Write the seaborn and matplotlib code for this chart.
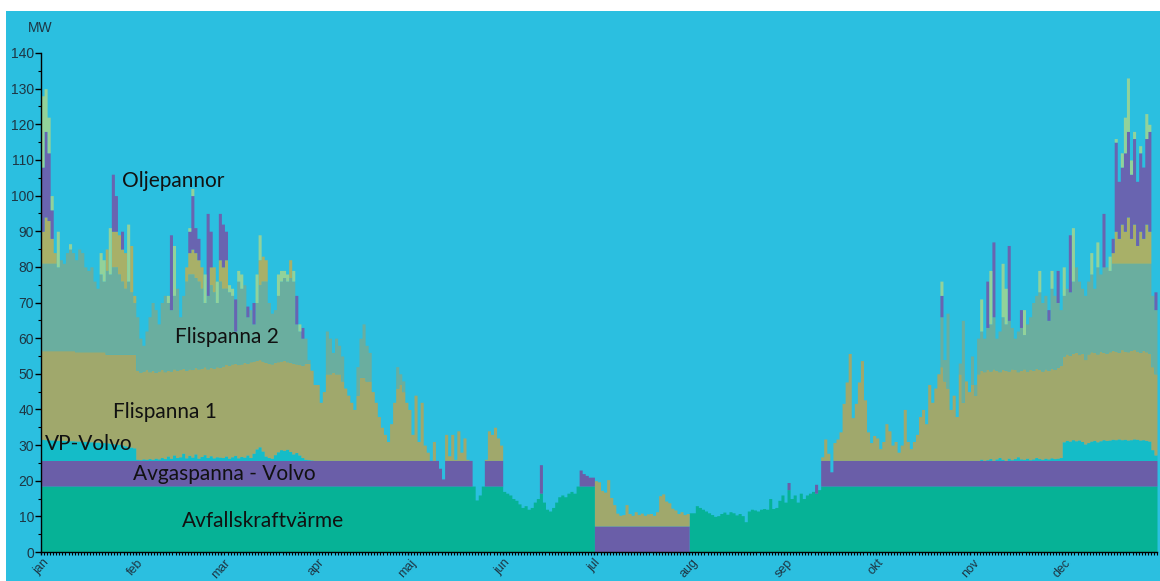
"""Heat production per source over one year (MW), stacked, drawn with seaborn."""

import numpy as np
import pandas as pd
import matplotlib

matplotlib.use("Agg")
import matplotlib.pyplot as plt
from matplotlib.patches import Rectangle
import seaborn as sns

months = ["jan", "feb", "mar", "apr", "maj", "jun", "jul", "aug", "sep", "okt", "nov", "dec"]
days_in_month = [31, 28, 31, 30, 31, 30, 31, 31, 30, 31, 30, 31]

# Daily values in MW, one inner list per month
avfallskraft = [
    [18.5, 18.5, 18.5, 18.5, 18.5, 18.5, 18.5, 18.5, 18.5, 18.5,
     18.5, 18.5, 18.5, 18.5, 18.5, 18.5, 18.5, 18.5, 18.5, 18.5,
     18.5, 18.5, 18.5, 18.5, 18.5, 18.5, 18.5, 18.5, 18.5, 18.5, 18.5],
    [18.5, 18.5, 18.5, 18.5, 18.5, 18.5, 18.5, 18.5, 18.5, 18.5,
     18.5, 18.5, 18.5, 18.5, 18.5, 18.5, 18.5, 18.5, 18.5, 18.5,
     18.5, 18.5, 18.5, 18.5, 18.5, 18.5, 18.5, 18.5],
    [18.5, 18.5, 18.5, 18.5, 18.5, 18.5, 18.5, 18.5, 18.5, 18.5,
     18.5, 18.5, 18.5, 18.5, 18.5, 18.5, 18.5, 18.5, 18.5, 18.5,
     18.5, 18.5, 18.5, 18.5, 18.5, 18.5, 18.5, 18.5, 18.5, 18.5, 18.5],
    [18.5, 18.5, 18.5, 18.5, 18.5, 18.5, 18.5, 18.5, 18.5, 18.5,
     18.5, 18.5, 18.5, 18.5, 18.5, 18.5, 18.5, 18.5, 18.5, 18.5,
     18.5, 18.5, 18.5, 18.5, 18.5, 18.5, 18.5, 18.5, 18.5, 18.5],
    [18.5, 18.5, 18.5, 18.5, 18.5, 18.5, 18.5, 18.5, 18.5, 18.5,
     18.5, 18.5, 18.5, 18.5, 18.5, 18.5, 18.5, 18.5, 18.5, 18.5,
     18.5, 18.5, 14.6, 16.0, 18.5, 18.5, 18.5, 18.5, 18.5, 18.5, 18.5],
    [17.0, 16.5, 16.0, 15.0, 14.5, 13.5, 12.5, 13.0, 12.0, 12.5,
     14.0, 15.0, 16.5, 14.0, 12.0, 11.5, 12.5, 14.0, 15.5, 16.0,
     15.5, 16.5, 17.0, 16.5, 18.5, 18.5, 18.5, 18.5, 18.5, 18.5],
    [0, 0, 0, 0, 0, 0, 0, 0, 0, 0,
     0, 0, 0, 0, 0, 0, 0, 0, 0, 0,
     0, 0, 0, 0, 0, 0, 0, 0, 0, 0, 0],
    [11.0, 11.0, 13.0, 12.5, 12.0, 11.5, 11.0, 10.5, 10.0, 10.2,
     10.8, 11.2, 10.6, 11.3, 11.0, 10.4, 10.8, 10.2, 8.5, 11.5,
     12.0, 11.8, 11.5, 12.0, 12.2, 12.0, 15.0, 12.2, 12.5, 14.5, 16.0],
    [14.0, 17.5, 15.0, 16.0, 14.0, 16.5, 15.0, 16.0, 16.5, 17.0,
     16.5, 17.5, 18.5, 18.5, 18.5, 18.5, 18.5, 18.5, 18.5, 18.5,
     18.5, 18.5, 18.5, 18.5, 18.5, 18.5, 18.5, 18.5, 18.5, 18.5],
    [18.5, 18.5, 18.5, 18.5, 18.5, 18.5, 18.5, 18.5, 18.5, 18.5,
     18.5, 18.5, 18.5, 18.5, 18.5, 18.5, 18.5, 18.5, 18.5, 18.5,
     18.5, 18.5, 18.5, 18.5, 18.5, 18.5, 18.5, 18.5, 18.5, 18.5, 18.5],
    [18.5, 18.5, 18.5, 18.5, 18.5, 18.5, 18.5, 18.5, 18.5, 18.5,
     18.5, 18.5, 18.5, 18.5, 18.5, 18.5, 18.5, 18.5, 18.5, 18.5,
     18.5, 18.5, 18.5, 18.5, 18.5, 18.5, 18.5, 18.5, 18.5, 18.5],
    [18.5, 18.5, 18.5, 18.5, 18.5, 18.5, 18.5, 18.5, 18.5, 18.5,
     18.5, 18.5, 18.5, 18.5, 18.5, 18.5, 18.5, 18.5, 18.5, 18.5,
     18.5, 18.5, 18.5, 18.5, 18.5, 18.5, 18.5, 18.5, 18.5, 18.5, 18.5],
]

avgaspanna = [
    [7.2, 7.2, 7.2, 7.2, 7.2, 7.2, 7.2, 7.2, 7.2, 7.2,
     7.2, 7.2, 7.2, 7.2, 7.2, 7.2, 7.2, 7.2, 7.2, 7.2,
     7.2, 7.2, 7.2, 7.2, 7.2, 7.2, 7.2, 7.2, 7.2, 7.2, 7.2],
    [7.2, 7.2, 7.2, 7.2, 7.2, 7.2, 7.2, 7.2, 7.2, 7.2,
     7.2, 7.2, 7.2, 7.2, 7.2, 7.2, 7.2, 7.2, 7.2, 7.2,
     7.2, 7.2, 7.2, 7.2, 7.2, 7.2, 7.2, 7.2],
    [7.2, 7.2, 7.2, 7.2, 7.2, 7.2, 7.2, 7.2, 7.2, 7.2,
     7.2, 7.2, 7.2, 7.2, 7.2, 7.2, 7.2, 7.2, 7.2, 7.2,
     7.2, 7.2, 7.2, 7.2, 7.2, 7.2, 7.2, 7.2, 7.2, 7.2, 7.2],
    [7.2, 7.2, 7.2, 7.2, 7.2, 7.2, 7.2, 7.2, 7.2, 7.2,
     7.2, 7.2, 7.2, 7.2, 7.2, 7.2, 7.2, 7.2, 7.2, 7.2,
     7.2, 7.2, 7.2, 7.2, 7.2, 7.2, 7.2, 7.2, 7.2, 7.2],
    [7.2, 7.2, 7.2, 7.2, 7.2, 7.2, 7.2, 7.2, 7.2, 7.2,
     5.0, 2.0, 7.2, 7.2, 7.2, 7.2, 7.2, 7.2, 7.2, 7.2,
     7.2, 0, 0, 0, 0, 7.2, 7.2, 7.2, 7.2, 7.2, 7.2],
    [0, 0, 0, 0, 0, 0, 0, 0, 0, 0,
     0, 0, 8.0, 0, 0, 0, 0, 0, 0, 0,
     0, 0, 0, 0, 0, 4.5, 3.5, 3.0, 2.5, 2.5],
    [7.3, 7.3, 7.3, 7.3, 7.3, 7.3, 7.3, 7.3, 7.3, 7.3,
     7.3, 7.3, 7.3, 7.3, 7.3, 7.3, 7.3, 7.3, 7.3, 7.3,
     7.3, 7.3, 7.3, 7.3, 7.3, 7.3, 7.3, 7.3, 7.3, 7.3, 7.3],
    [0, 0, 0, 0, 0, 0, 0, 0, 0, 0,
     0, 0, 0, 0, 0, 0, 0, 0, 0, 0,
     0, 0, 0, 0, 0, 0, 0, 0, 0, 0, 0],
    [0, 2.0, 0, 0, 0, 0, 0, 0, 0, 0,
     2.5, 0, 7.2, 7.2, 7.2, 4.0, 7.2, 7.2, 7.2, 7.2,
     7.2, 7.2, 7.2, 7.2, 7.2, 7.2, 7.2, 7.2, 7.2, 7.2],
    [7.2, 7.2, 7.2, 7.2, 7.2, 7.2, 7.2, 7.2, 7.2, 7.2,
     7.2, 7.2, 7.2, 7.2, 7.2, 7.2, 7.2, 7.2, 7.2, 7.2,
     7.2, 7.2, 7.2, 7.2, 7.2, 7.2, 7.2, 7.2, 7.2, 7.2, 7.2],
    [7.2, 7.2, 7.2, 7.2, 7.2, 7.2, 7.2, 7.2, 7.2, 7.2,
     7.2, 7.2, 7.2, 7.2, 7.2, 7.2, 7.2, 7.2, 7.2, 7.2,
     7.2, 7.2, 7.2, 7.2, 7.2, 7.2, 7.2, 7.2, 7.2, 7.2],
    [7.2, 7.2, 7.2, 7.2, 7.2, 7.2, 7.2, 7.2, 7.2, 7.2,
     7.2, 7.2, 7.2, 7.2, 7.2, 7.2, 7.2, 7.2, 7.2, 7.2,
     7.2, 7.2, 7.2, 7.2, 7.2, 7.2, 7.2, 7.2, 7.2, 7.2, 7.2],
]

vp_volvo = [
    [5.9, 5.8, 5.8, 5.7, 5.7, 5.6, 5.6, 5.6, 5.5, 5.5,
     5.5, 5.4, 5.4, 5.3, 5.3, 5.2, 5.2, 5.1, 5.1, 5.0,
     5.0, 4.9, 4.8, 4.7, 4.6, 4.5, 4.3, 4.1, 3.9, 3.7, 3.5],
    [0.3, 0.2, 0.4, 0.3, 0.5, 0.3, 0.6, 0.4, 0.8, 0.5,
     1.2, 0.6, 1.5, 0.8, 1.0, 2.0, 0.7, 1.4, 0.9, 1.8,
     0.6, 1.1, 1.6, 0.8, 1.3, 0.7, 1.0, 0.9],
    [0.8, 1.2, 0.6, 1.0, 1.4, 0.7, 1.1, 0.9, 1.5, 0.8,
     2.0, 3.2, 3.8, 2.6, 1.2, 0.8, 0.6, 1.6, 2.4, 3.0,
     2.8, 3.1, 2.5, 1.8, 2.2, 1.5, 0.8, 0.3, 0.2, 0.1, 0],
    [0, 0, 0, 0, 0, 0, 0, 0, 0, 0,
     0, 0, 0, 0, 0, 0, 0, 0, 0, 0,
     0, 0, 0, 0, 0, 0, 0, 0, 0, 0],
    [0, 0, 0, 0, 0, 0, 0, 0, 0, 0,
     0, 0, 0, 0, 0, 0, 0, 0, 0, 0,
     0, 0, 0, 0, 0, 0, 0, 0, 0, 0, 0],
    [0, 0, 0, 0, 0, 0, 0, 0, 0, 0,
     0, 0, 0, 0, 0, 0, 0, 0, 0, 0,
     0, 0, 0, 0, 0, 0, 0, 0, 0, 0],
    [0, 0, 0, 0, 0, 0, 0, 0, 0, 0,
     0, 0, 0, 0, 0, 0, 0, 0, 0, 0,
     0, 0, 0, 0, 0, 0, 0, 0, 0, 0, 0],
    [0, 0, 0, 0, 0, 0, 0, 0, 0, 0,
     0, 0, 0, 0, 0, 0, 0, 0, 0, 0,
     0, 0, 0, 0, 0, 0, 0, 0, 0, 0, 0],
    [0, 0, 0, 0, 0, 0, 0, 0, 0, 0,
     0, 0, 0, 0, 0, 0, 0, 0, 0, 0,
     0, 0, 0, 0, 0, 0, 0, 0, 0, 0],
    [0, 0, 0, 0, 0, 0, 0, 0, 0, 0,
     0, 0, 0, 0, 0, 0, 0, 0, 0, 0,
     0, 0, 0, 0, 0, 0, 0, 0, 0, 0, 0],
    [0, 0, 0, 0.3, 0, 0.2, 0.5, 0, 0.4, 0.8,
     0.3, 0, 0.6, 0.2, 0.5, 1.0, 0.4, 0.3, 0.6, 0.2,
     0.4, 0.8, 0.5, 0.3, 0.6, 0.4, 0.7, 0.5, 0.6, 0.8],
    [5.2, 5.6, 5.4, 5.8, 5.5, 5.7, 5.3, 4.6, 5.0, 5.4,
     5.6, 5.2, 5.5, 5.8, 5.6, 5.7, 5.9, 5.8, 6.0, 5.8,
     5.9, 5.7, 5.8, 6.0, 5.9, 5.7, 5.8, 5.6, 5.4, 3.0, 1.5],
]

flispanna_1 = [
    [24.9, 25.0, 25.0, 25.1, 25.1, 25.2, 25.2, 25.2, 25.3, 25.3,
     25.3, 25.1, 25.1, 25.2, 25.2, 25.3, 25.3, 25.4, 25.4, 25.5,
     25.5, 24.9, 25.0, 25.1, 25.2, 25.3, 25.5, 25.7, 25.9, 26.1, 26.3],
    [25.0, 24.6, 24.7, 25.2, 24.4, 25.0, 24.1, 24.7, 24.7, 24.4,
     24.1, 24.5, 24.2, 24.5, 24.5, 23.9, 24.6, 24.3, 24.6, 24.3,
     25.1, 24.8, 24.7, 24.9, 24.8, 25.2, 25.3, 25.2],
    [25.7, 25.7, 26.1, 26.1, 25.9, 26.2, 26.0, 26.6, 25.8, 26.9,
     25.9, 24.9, 24.5, 25.3, 26.3, 26.5, 26.5, 25.9, 25.3, 24.9,
     25.3, 24.6, 25.0, 25.5, 24.9, 25.4, 25.9, 27.0, 27.1, 25.2, 21.3],
    [21.3, 16.3, 19.3, 24.3, 24.3, 24.8, 24.3, 24.3, 22.3, 20.3,
     18.3, 16.3, 14.3, 18.3, 23.3, 23.3, 22.3, 22.3, 19.3, 16.3,
     12.3, 9.3, 7.3, 5.3, 10.3, 16.3, 20.3, 21.3, 19.3, 16.3],
    [14.3, 7.3, 18.3, 5.3, 16.3, 4.3, 2.3, 0, 5.3, 0,
     0, 0, 7.3, 1.3, 7.3, 0.3, 8.3, 2.3, 6.3, 0.3,
     0, 0, 0, 0, 0, 0.3, 8.3, 7.3, 9.3, 6.3, 4.3],
    [0, 0, 0, 0, 0, 0, 0, 0, 0, 0,
     0, 0, 0, 0, 0, 0, 0, 0, 0, 0,
     0, 0, 0, 0, 0, 0, 0, 0, 0, 0],
    [12.7, 12.4, 10.0, 9.5, 13.0, 8.0, 6.0, 3.6, 3.0, 3.2,
     6.0, 3.5, 3.0, 4.0, 3.2, 3.6, 3.0, 3.4, 3.5, 3.0,
     4.0, 8.5, 9.0, 7.0, 6.5, 5.0, 4.5, 3.5, 4.0, 3.2, 3.5],
    [0, 0, 0, 0, 0, 0, 0, 0, 0, 0,
     0, 0, 0, 0, 0, 0, 0, 0, 0, 0,
     0, 0, 0, 0, 0, 0, 0, 0, 0, 0, 0],
    [0, 0, 0, 0, 0, 0, 0, 0, 0, 0,
     0, 0, 1.0, 6.0, 2.0, 0, 5.0, 6.0, 8.0, 16.0,
     22.0, 30.0, 12.0, 16.0, 22.0, 28.0, 17.0, 8.0, 5.0, 7.0],
    [6.3, 3.3, 5.3, 10.3, 8.3, 4.3, 5.3, 2.3, 4.3, 14.3,
     5.3, 3.3, 5.3, 7.3, 12.3, 14.3, 10.3, 21.3, 16.3, 20.3,
     24.3, 26.3, 22.3, 20.3, 14.3, 18.3, 12.3, 24.3, 16.3, 22.3, 19.3],
    [21.3, 18.3, 24.3, 25.0, 24.9, 25.3, 24.6, 25.7, 24.9, 24.1,
     25.2, 25.3, 24.5, 25.5, 25.0, 23.9, 24.9, 25.4, 24.5, 25.3,
     24.9, 25.1, 25.0, 24.8, 25.1, 24.9, 25.2, 25.0, 25.5, 25.9],
    [24.1, 24.3, 24.1, 24.3, 24.8, 24.0, 24.8, 23.7, 24.9, 25.1,
     24.7, 24.7, 25.2, 24.5, 24.5, 24.8, 25.0, 24.9, 24.3, 25.3,
     24.8, 24.8, 25.1, 25.1, 24.8, 24.6, 25.1, 24.9, 24.7, 23.3, 22.8],
]

flispanna_2 = [
    [24.5, 24.5, 24.5, 24.5, 24.5, 23.5, 25.5, 24.5, 27.5, 28.5,
     27.5, 25.8, 28.8, 27.8, 23.8, 22.8, 23.8, 19.8, 17.8, 21.8,
     19.8, 23.5, 22.5, 24.5, 24.5, 22.5, 20.5, 18.5, 20.5, 17.5, 14.5],
    [15.0, 9.5, 7.2, 10.8, 15.4, 19.0, 17.6, 13.2, 18.8, 21.4,
     19.0, 17.2, 20.6, 23.0, 14.8, 20.4, 25.0, 26.6, 26.8, 25.2,
     24.6, 22.4, 18.0, 20.6, 23.2, 21.4, 18.0, 24.2],
    [21.8, 21.4, 20.6, 19.2, 9.0, 23.4, 21.2, 21.8, 13.0, 14.6,
     10.4, 16.2, 21.0, 22.4, 22.8, 17.0, 14.2, 14.8, 18.6, 22.4,
     23.2, 22.6, 23.8, 23.0, 11.2, 9.4, 7.6, 7.0, 1.0, 0, 0],
    [0, 0, 0, 12.0, 10.0, 5.5, 10.0, 8.0, 7.0, 0,
     0, 0, 0, 8.0, 11.0, 15.0, 10.0, 8.0, 0, 0,
     0, 0, 0, 0, 0, 0, 6.0, 3.0, 3.0, 0],
    [0, 0, 0, 0, 0, 0, 0, 0, 0, 0,
     0, 0, 0, 0, 0, 0, 0, 0, 0, 0,
     0, 0, 0, 0, 0, 0, 0, 0, 0, 0, 0],
    [0, 0, 0, 0, 0, 0, 0, 0, 0, 0,
     0, 0, 0, 0, 0, 0, 0, 0, 0, 0,
     0, 0, 0, 0, 0, 0, 0, 0, 0, 0],
    [0, 0, 0, 0, 0, 0, 0, 0, 0, 0,
     0, 0, 0, 0, 0, 0, 0, 0, 0, 0,
     0, 0, 0, 0, 0, 0, 0, 0, 0, 0, 0],
    [0, 0, 0, 0, 0, 0, 0, 0, 0, 0,
     0, 0, 0, 0, 0, 0, 0, 0, 0, 0,
     0, 0, 0, 0, 0, 0, 0, 0, 0, 0, 0],
    [0, 0, 0, 0, 0, 0, 0, 0, 0, 0,
     0, 0, 0, 0, 0, 0, 0, 0, 0, 0,
     0, 0, 0, 0, 0, 0, 0, 0, 0, 0],
    [0, 0, 0, 0, 0, 0, 0, 0, 0, 0,
     0, 0, 0, 0, 0, 0, 0, 0, 0, 0,
     0, 14.0, 6.0, 21.0, 0, 0, 0, 3.0, 23.0, 0, 0],
    [8.0, 3.0, 10.0, 11.0, 9.4, 11.8, 13.2, 14.6, 9.0, 11.4,
     14.8, 13.0, 14.2, 11.6, 8.8, 11.4, 12.0, 9.6, 13.2, 14.8,
     19.0, 20.4, 21.8, 19.2, 20.6, 14.0, 22.4, 20.8, 18.2, 15.6],
    [17.0, 18.4, 17.8, 20.2, 24.0, 20.6, 18.2, 18.0, 20.4, 21.8,
     18.0, 24.4, 21.6, 24.0, 24.2, 22.8, 24.4, 24.6, 25.0, 24.2,
     24.6, 24.8, 24.4, 24.2, 24.6, 25.0, 24.4, 24.8, 25.2, 20.0, 18.0],
]

# unlabelled khaki layer drawn above Flispanna 2
flis_ovrig = [
    [9, 13, 12, 7, 3, 0, 0, 0, 0, 0,
     0, 0, 0, 0, 0, 0, 0, 0, 0, 0,
     0, 6, 0, 10, 10, 11, 9, 10, 0, 13, 2],
    [0, 0, 0, 0, 0, 0, 0, 0, 0, 0,
     0, 0, 0, 0, 0, 0, 4, 6, 7, 7,
     6, 6, 0, 0, 5, 7, 0, 6],
    [6, 8, 0, 0, 0, 0, 0, 0, 0, 0,
     0, 0, 7, 7, 6, 0, 0, 0, 0, 0,
     0, 0, 5, 0, 0, 0, 0, 0, 0, 0, 0],
    [0, 0, 0, 0, 0, 0, 0, 0, 0, 0,
     0, 0, 0, 0, 0, 0, 0, 0, 0, 0,
     0, 0, 0, 0, 0, 0, 0, 0, 0, 0],
    [0, 0, 0, 0, 0, 0, 0, 0, 0, 0,
     0, 0, 0, 0, 0, 0, 0, 0, 0, 0,
     0, 0, 0, 0, 0, 0, 0, 0, 0, 0, 0],
    [0, 0, 0, 0, 0, 0, 0, 0, 0, 0,
     0, 0, 0, 0, 0, 0, 0, 0, 0, 0,
     0, 0, 0, 0, 0, 0, 0, 0, 0, 0],
    [0, 0, 0, 0, 0, 0, 0, 0, 0, 0,
     0, 0, 0, 0, 0, 0, 0, 0, 0, 0,
     0, 0, 0, 0, 0, 0, 0, 0, 0, 0, 0],
    [0, 0, 0, 0, 0, 0, 0, 0, 0, 0,
     0, 0, 0, 0, 0, 0, 0, 0, 0, 0,
     0, 0, 0, 0, 0, 0, 0, 0, 0, 0, 0],
    [0, 0, 0, 0, 0, 0, 0, 0, 0, 0,
     0, 0, 0, 0, 0, 0, 0, 0, 0, 0,
     0, 0, 0, 0, 0, 0, 0, 0, 0, 0],
    [0, 0, 0, 0, 0, 0, 0, 0, 0, 0,
     0, 0, 0, 0, 0, 0, 0, 0, 0, 0,
     0, 0, 0, 0, 0, 0, 0, 0, 0, 0, 0],
    [0, 0, 0, 0, 0, 0, 0, 0, 0, 0,
     0, 0, 0, 0, 0, 0, 0, 0, 0, 0,
     0, 0, 0, 0, 0, 0, 0, 0, 0, 0],
    [0, 0, 0, 0, 0, 0, 0, 0, 0, 0,
     0, 0, 0, 0, 0, 0, 3, 9, 7, 11,
     9, 13, 7, 11, 5, 9, 7, 11, 9, 0, 0],
]

oljepannor = [
    [18, 24, 19, 8, 0, 0, 0, 0, 0, 0,
     0, 0, 0, 0, 0, 0, 0, 0, 0, 0,
     0, 0, 0, 16, 10, 0, 5, 0, 0, 0, 0],
    [0, 0, 0, 0, 0, 0, 0, 0, 0, 0,
     0, 21, 0, 0, 0, 0, 0, 6, 15, 7,
     6, 0, 0, 23, 10, 0, 0, 13],
    [12, 8, 0, 0, 9, 0, 0, 0, 3, 0,
     6, 0, 0, 0, 0, 0, 0, 0, 0, 0,
     0, 0, 0, 0, 8, 0, 3, 0, 0, 0, 0],
    [0, 0, 0, 0, 0, 0, 0, 0, 0, 0,
     0, 0, 0, 0, 0, 0, 0, 0, 0, 0,
     0, 0, 0, 0, 0, 0, 0, 0, 0, 0],
    [0, 0, 0, 0, 0, 0, 0, 0, 0, 0,
     0, 0, 0, 0, 0, 0, 0, 0, 0, 0,
     0, 0, 0, 0, 0, 0, 0, 0, 0, 0, 0],
    [0, 0, 0, 0, 0, 0, 0, 0, 0, 0,
     0, 0, 0, 0, 0, 0, 0, 0, 0, 0,
     0, 0, 0, 0, 0, 0, 0, 0, 0, 0],
    [0, 0, 0, 0, 0, 0, 0, 0, 0, 0,
     0, 0, 0, 0, 0, 0, 0, 0, 0, 0,
     0, 0, 0, 0, 0, 0, 0, 0, 0, 0, 0],
    [0, 0, 0, 0, 0, 0, 0, 0, 0, 0,
     0, 0, 0, 0, 0, 0, 0, 0, 0, 0,
     0, 0, 0, 0, 0, 0, 0, 0, 0, 0, 0],
    [0, 0, 0, 0, 0, 0, 0, 0, 0, 0,
     0, 0, 0, 0, 0, 0, 0, 0, 0, 0,
     0, 0, 0, 0, 0, 0, 0, 0, 0, 0],
    [0, 0, 0, 0, 0, 0, 0, 0, 0, 0,
     0, 0, 0, 0, 0, 0, 0, 0, 0, 0,
     0, 6, 0, 0, 0, 0, 0, 0, 0, 0, 0],
    [0, 0, 0, 0, 0, 13, 0, 21, 0, 0,
     0, 0, 21, 0, 0, 0, 5, 0, 0, 0,
     0, 0, 0, 0, 0, 3, 0, 0, 9, 0],
    [0, 0, 16, 0, 0, 0, 0, 0, 0, 0,
     0, 0, 0, 15, 0, 0, 4, 25, 16, 16,
     22, 24, 18, 24, 18, 22, 20, 24, 28, 0, 5],
]

# unlabelled light green peaks on top of the stack
spets = [
    [20, 12, 10, 4, 0, 10, 0, 0, 0, 1.5,
     0, 0, 0, 0, 0, 0, 0, 0, 0, 6,
     6, 0, 13, 0, 0, 0, 0, 0, 16, 0, 0],
    [0, 0, 0, 0, 0, 0, 0, 0, 0, 0,
     2, 0, 14, 0, 0, 0, 0, 1, 2, 0,
     0, 0, 8, 0, 0, 0, 6, 0],
    [0, 0, 2, 2, 0, 3, 4, 0, 0, 0,
     0, 8, 7, 0, 0, 0, 0, 0, 6, 3,
     2, 2, 0, 3, 0, 2, 0, 0, 0, 0, 0],
    [0, 0, 0, 0, 0, 0, 0, 0, 0, 0,
     0, 0, 0, 0, 0, 0, 0, 0, 0, 0,
     0, 0, 0, 0, 0, 0, 0, 0, 0, 0],
    [0, 0, 0, 0, 0, 0, 0, 0, 0, 0,
     0, 0, 0, 0, 0, 0, 0, 0, 0, 0,
     0, 0, 0, 0, 0, 0, 0, 0, 0, 0, 0],
    [0, 0, 0, 0, 0, 0, 0, 0, 0, 0,
     0, 0, 0, 0, 0, 0, 0, 0, 0, 0,
     0, 0, 0, 0, 0, 0, 0, 0, 0, 0],
    [0, 0, 0, 0, 0, 0, 0, 0, 0, 0,
     0, 0, 0, 0, 0, 0, 0, 0, 0, 0,
     0, 0, 0, 0, 0, 0, 0, 0, 0, 0, 0],
    [0, 0, 0, 0, 0, 0, 0, 0, 0, 0,
     0, 0, 0, 0, 0, 0, 0, 0, 0, 0,
     0, 0, 0, 0, 0, 0, 0, 0, 0, 0, 0],
    [0, 0, 0, 0, 0, 0, 0, 0, 0, 0,
     0, 0, 0, 0, 0, 0, 0, 0, 0, 0,
     0, 0, 0, 0, 0, 0, 0, 0, 0, 0],
    [0, 0, 0, 0, 0, 0, 0, 0, 0, 0,
     0, 0, 0, 0, 0, 0, 0, 0, 0, 0,
     0, 4, 0, 0, 0, 0, 0, 0, 0, 0, 0],
    [0, 0, 0, 9, 0, 0, 15, 0, 0, 0,
     15, 10, 0, 0, 0, 0, 0, 7, 0, 0,
     0, 0, 6, 0, 0, 0, 5, 0, 0, 0],
    [8, 0, 0, 15, 0, 0, 0, 0, 0, 6,
     0, 7, 0, 0, 0, 4, 0, 1, 0, 4,
     10, 15, 4, 2, 0, 2, 0, 7, 2, 0, 0],
]


def flatten(monthly, name):
    for m, vals in enumerate(monthly):
        assert len(vals) == days_in_month[m], (name, months[m], len(vals))
    return [v for vals in monthly for v in vals]


# stacking order, top of the stack first
series = {
    "Spets": spets,
    "Oljepannor": oljepannor,
    "Flis övrig": flis_ovrig,
    "Flispanna 2": flispanna_2,
    "Flispanna 1": flispanna_1,
    "VP-Volvo": vp_volvo,
    "Avgaspanna - Volvo": avgaspanna,
    "Avfallskraftvärme": avfallskraft,
}
colors = {
    "Spets": "#92d29a",
    "Oljepannor": "#6964b0",
    "Flis övrig": "#a8b068",
    "Flispanna 2": "#6aae9f",
    "Flispanna 1": "#a0a86c",
    "VP-Volvo": "#14bcc8",
    "Avgaspanna - Volvo": "#6a5ea8",
    "Avfallskraftvärme": "#06b296",
}

day = np.arange(365) + 0.5
df = pd.concat(
    [pd.DataFrame({"dag": day, "MW": flatten(v, k), "panna": k}) for k, v in series.items()],
    ignore_index=True,
)

bg = "#2bbfe0"
sns.set_style("ticks")
plt.rcParams["font.family"] = ["Liberation Sans", "DejaVu Sans"]

fig = plt.figure(figsize=(11.6, 5.81), dpi=100)
fig.patch.set_facecolor("white")
fig.add_artist(Rectangle((6 / 1160, 0), 1, 1 - 11 / 581, transform=fig.transFigure,
                         facecolor=bg, edgecolor="none", zorder=0))
ax = fig.add_axes([41 / 1160, 1 - 552 / 581, 1116 / 1160, 499 / 581])
ax.set_facecolor(bg)

# one bin per day, the weights carry the MW values
sns.histplot(
    data=df, x="dag", weights="MW", hue="panna", hue_order=list(series),
    palette=colors, multiple="stack", bins=365, binrange=(0, 365), element="step",
    fill=True, linewidth=0, alpha=1, legend=False, ax=ax,
)

ax.set_xlim(0, 365)
ax.set_ylim(0, 140)
ax.set_xlabel("")
ax.set_ylabel("")
for side in ["top", "right"]:
    ax.spines[side].set_visible(False)
for side in ["left", "bottom"]:
    ax.spines[side].set_color("black")
    ax.spines[side].set_linewidth(1)

month_start = np.cumsum([0] + days_in_month[:-1])
ax.set_xticks(month_start)
ax.set_xticklabels(months, rotation=48, ha="center", va="top", fontsize=9)
ax.set_xticks(np.arange(0, 366), minor=True)
ax.set_yticks(np.arange(0, 141, 10))
ax.set_yticks(np.arange(0, 141, 5), minor=True)
ax.tick_params(axis="both", which="major", direction="out", length=4, width=1,
               color="black", labelsize=10, labelcolor="#1e3644")
ax.tick_params(axis="both", which="minor", direction="out", length=2.5, width=0.8,
               color="black")
ax.tick_params(axis="x", which="major", length=2.5, pad=1, labelsize=9)
ax.tick_params(axis="y", which="major", pad=1)

fig.text(40 / 1160, 1 - 28 / 581, "MW", ha="center", va="center",
         fontsize=10, color="#1e3644")

labels = [
    ("Oljepannor", 26.5, 104.2),
    ("Flispanna 2", 43.8, 60.3),
    ("Flispanna 1", 23.5, 39.3),
    ("VP-Volvo", 1.3, 30.3),
    ("Avgaspanna - Volvo", 30.1, 22.0),
    ("Avfallskraftvärme", 46.1, 8.7),
]
for text, x, y in labels:
    ax.text(x, y, text, ha="left", va="center", fontsize=15,
            family=["Lato", "DejaVu Sans"], color="#111111")

fig.savefig("out.png", dpi=100, facecolor=fig.get_facecolor())
